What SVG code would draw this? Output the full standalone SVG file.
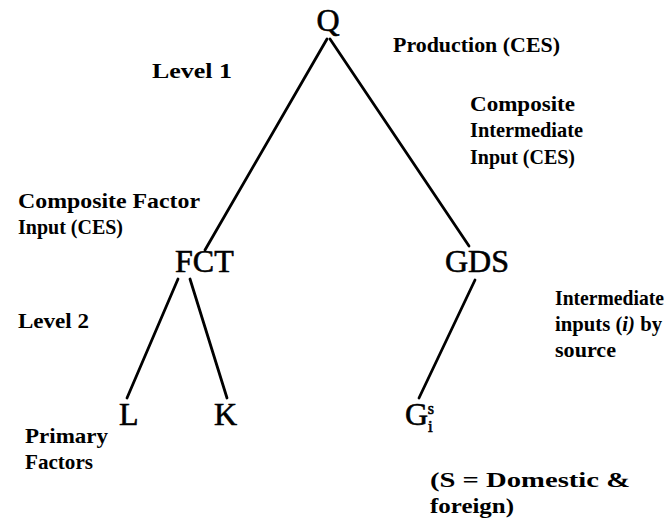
<svg xmlns="http://www.w3.org/2000/svg" width="672" height="521" viewBox="0 0 672 521">
<style>
.node{font-family:"Liberation Serif","Times New Roman",serif;font-size:32px;fill:#000;stroke:#000;stroke-width:0.6}
.lbl{font-family:"Liberation Serif","Times New Roman",serif;font-size:21px;font-weight:bold;fill:#000}
.edge{stroke:#000;stroke-width:2.8;fill:none;stroke-linecap:round}
</style>
<rect width="672" height="521" fill="#fff"/>
<g id="connectors">
<line class="edge" x1="327" y1="39" x2="205" y2="250"/>
<line class="edge" x1="330" y1="39" x2="469" y2="246"/>
<line class="edge" x1="178" y1="279" x2="127" y2="398"/>
<line class="edge" x1="190" y1="279" x2="227" y2="398"/>
<line class="edge" x1="475" y1="280" x2="419" y2="398"/>
</g>
<g id="node-Q"><text class="node" x="328" y="31" text-anchor="middle" font-size="36">Q</text></g>
<g id="node-FCT"><text class="node" x="175" y="272">FCT</text></g>
<g id="node-GDS"><text class="node" x="445" y="272">GDS</text></g>
<g id="node-L"><text class="node" x="119" y="425">L</text></g>
<g id="node-K"><text class="node" x="214" y="425">K</text></g>
<g id="node-G"><text class="node" x="405" y="425">G<tspan font-size="17" dy="7">i</tspan><tspan font-size="16" dx="-5" dy="-18">s</tspan></text></g>
<g id="labels">
<text class="lbl" x="393" y="52" textLength="167" lengthAdjust="spacingAndGlyphs">Production (CES)</text>
<text class="lbl" x="152" y="78" textLength="80" lengthAdjust="spacingAndGlyphs">Level 1</text>
<text class="lbl" x="470" y="111" textLength="105" lengthAdjust="spacingAndGlyphs">Composite</text>
<text class="lbl" x="470" y="137" textLength="113" lengthAdjust="spacingAndGlyphs">Intermediate</text>
<text class="lbl" x="470" y="164" textLength="105" lengthAdjust="spacingAndGlyphs">Input (CES)</text>
<text class="lbl" x="18" y="208" textLength="182" lengthAdjust="spacingAndGlyphs">Composite Factor</text>
<text class="lbl" x="18" y="234" textLength="105" lengthAdjust="spacingAndGlyphs">Input (CES)</text>
<text class="lbl" x="555" y="305" textLength="109" lengthAdjust="spacingAndGlyphs">Intermediate</text>
<text class="lbl" x="555" y="331" textLength="107" lengthAdjust="spacingAndGlyphs">inputs (<tspan font-style="italic">i)</tspan> by</text>
<text class="lbl" x="555" y="357" textLength="61" lengthAdjust="spacingAndGlyphs">source</text>
<text class="lbl" x="18" y="328" textLength="71" lengthAdjust="spacingAndGlyphs">Level 2</text>
<text class="lbl" x="25" y="443" textLength="83" lengthAdjust="spacingAndGlyphs">Primary</text>
<text class="lbl" x="25" y="469" textLength="68" lengthAdjust="spacingAndGlyphs">Factors</text>
<text class="lbl" x="430" y="487" textLength="200" lengthAdjust="spacingAndGlyphs">(S = Domestic &amp;</text>
<text class="lbl" x="430" y="513" textLength="84" lengthAdjust="spacingAndGlyphs">foreign)</text>
</g>
</svg>
